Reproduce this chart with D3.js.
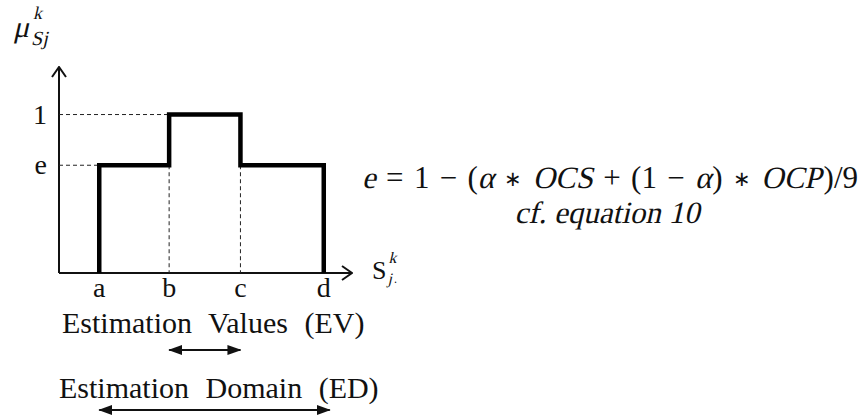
<!DOCTYPE html>
<html>
<head>
<meta charset="utf-8">
<script src="https://cdn.jsdelivr.net/npm/d3@7"></script>
<style>
  body { margin: 0; background: #fff; }
  text { font-family: "Liberation Serif", "Times New Roman", serif; fill: #111; }
</style>
</head>
<body>
<div id="chart"></div>
<script>
// Breakpoints on the S axis and the membership levels between them
const tickLabels = ['a', 'b', 'c', 'd'];
const breakpoints = [0.57, 1.56, 2.57, 3.75];
const eLevel = 0.68;
const levels = [eLevel, 1, eLevel];
const yTickLabels = ['e', '1'];
const yTickValues = [eLevel, 1];

const width = 864, height = 420;

const svg = d3.select('#chart')
  .append('svg')
  .attr('width', width)
  .attr('height', height);

// Scales
const x = d3.scaleLinear().domain([0, 4.15]).range([59, 352]);
const y = d3.scaleLinear().domain([0, 1.3]).range([273, 67]);

// no serif italic installed, so italics are slanted by hand
const SLANT = -13;

// lays out a run of text pieces one after another, returns the width
function richText(parent, x0, y0, size, parts, gapSize) {
  let cx = x0;
  parts.forEach(p => {
    const fs = p.size || size;
    const by = y0 + (p.dy || 0);
    const px = cx + (p.dx || 0);
    const t = parent.append('text')
      .style('font-size', fs + 'px')
      .text(p.t);
    if (p.it) t.attr('transform', `translate(${px},${by}) skewX(${SLANT})`);
    else t.attr('x', px).attr('y', by);
    const w = t.node().getComputedTextLength();
    const gap = p.gap === 'G' ? (gapSize || 0) : (p.gap || 0);
    if (!p.stay) cx = px + w + gap;
  });
  return cx - x0;
}

// Arrow markers
const defs = svg.append('defs');
defs.append('marker')
  .attr('id', 'open')
  .attr('viewBox', '0 0 12 16')
  .attr('refX', 11).attr('refY', 8)
  .attr('markerWidth', 12).attr('markerHeight', 16)
  .attr('markerUnits', 'userSpaceOnUse')
  .attr('orient', 'auto')
  .append('path')
  .attr('d', 'M1,1 L11,8 L1,15')
  .attr('fill', 'none')
  .attr('stroke', '#111')
  .attr('stroke-width', 2);

defs.append('marker')
  .attr('id', 'solid')
  .attr('viewBox', '0 0 14 10')
  .attr('refX', 13).attr('refY', 5)
  .attr('markerWidth', 14).attr('markerHeight', 10)
  .attr('markerUnits', 'userSpaceOnUse')
  .attr('orient', 'auto-start-reverse')
  .append('path')
  .attr('d', 'M0,0 L14,5 L0,10 Z')
  .attr('fill', '#111');

// Axes
svg.append('line')
  .attr('x1', x(0)).attr('y1', y(0))
  .attr('x2', x(0)).attr('y2', y(1.3))
  .attr('stroke', '#111').attr('stroke-width', 2)
  .attr('marker-end', 'url(#open)');

svg.append('line')
  .attr('x1', x(0)).attr('y1', y(0))
  .attr('x2', x(4.15)).attr('y2', y(0))
  .attr('stroke', '#111').attr('stroke-width', 2)
  .attr('marker-end', 'url(#open)');

// Dashed guide lines
function dashed(x1, y1, x2, y2) {
  svg.append('line')
    .attr('x1', x1).attr('y1', y1).attr('x2', x2).attr('y2', y2)
    .attr('stroke', '#222')
    .attr('stroke-width', 1)
    .attr('stroke-dasharray', '4,3');
}
dashed(x(0), y(1), x(breakpoints[1]), y(1));
dashed(x(0), y(eLevel), x(breakpoints[0]), y(eLevel));
dashed(x(breakpoints[1]), y(eLevel), x(breakpoints[1]), y(0));
dashed(x(breakpoints[2]), y(eLevel), x(breakpoints[2]), y(0));

// Step membership function
const pts = [[breakpoints[0], 0]];
levels.forEach((lv, i) => {
  pts.push([breakpoints[i], lv]);
  pts.push([breakpoints[i + 1], lv]);
});
pts.push([breakpoints[breakpoints.length - 1], 0]);

svg.append('path')
  .attr('d', d3.line().x(d => x(d[0])).y(d => y(d[1]))(pts))
  .attr('fill', 'none')
  .attr('stroke', '#000')
  .attr('stroke-width', 4.5)
  .attr('stroke-linejoin', 'miter');

// Tick labels
svg.selectAll('.xt')
  .data(tickLabels)
  .join('text')
  .attr('class', 'xt')
  .attr('x', (d, i) => x(breakpoints[i]))
  .attr('y', 297)
  .attr('text-anchor', 'middle')
  .style('font-size', '28px')
  .text(d => d);

svg.selectAll('.yt')
  .data(yTickLabels)
  .join('text')
  .attr('class', 'yt')
  .attr('x', 47)
  .attr('y', (d, i) => y(yTickValues[i]) + 9)
  .attr('text-anchor', 'end')
  .style('font-size', '28px')
  .text(d => d);

// Axis titles
richText(svg, 13, 37, 30, [
  { t: 'μ', it: true, gap: 2 },
  { t: 'k', it: true, size: 18, dy: -18, dx: 2, stay: true },
  { t: 'S', it: true, size: 20, dy: 8 },
  { t: 'j', it: true, size: 20, dy: 8 }
]);

richText(svg, 372, 279, 26, [
  { t: 'S', gap: 2 },
  { t: 'k', it: true, size: 16, dy: -16, stay: true },
  { t: 'j', it: true, size: 16, dy: 5, dx: -1 },
  { t: '.', size: 12, dy: 4, dx: 2 }
]);

// Bottom annotations
svg.append('text')
  .attr('x', 62).attr('y', 333)
  .style('font-size', '30px')
  .style('word-spacing', '9px')
  .text('Estimation Values (EV)');

svg.append('line')
  .attr('x1', x(breakpoints[1])).attr('y1', 350)
  .attr('x2', x(breakpoints[2])).attr('y2', 350)
  .attr('stroke', '#111').attr('stroke-width', 2)
  .attr('marker-start', 'url(#solid)')
  .attr('marker-end', 'url(#solid)');

svg.append('text')
  .attr('x', 59).attr('y', 398)
  .style('font-size', '30px')
  .style('word-spacing', '9px')
  .text('Estimation Domain (ED)');

svg.append('line')
  .attr('x1', x(breakpoints[0])).attr('y1', 410)
  .attr('x2', x(breakpoints[3]) + 6).attr('y2', 410)
  .attr('stroke', '#111').attr('stroke-width', 2)
  .attr('marker-start', 'url(#solid)')
  .attr('marker-end', 'url(#solid)');

// Equation, spread so that it spans the same width as in the figure
const eqParts = [
  { t: 'e', it: true, gap: 'G' },
  { t: '=', gap: 'G' },
  { t: '1', gap: 'G' },
  { t: '−', gap: 'G' },
  { t: '(' },
  { t: 'α', it: true, gap: 'G' },
  { t: '∗', gap: 'G', size: 21, dy: -2 },
  { t: 'OCS', it: true, gap: 'G' },
  { t: '+', gap: 'G' },
  { t: '(1', gap: 'G' },
  { t: '−', gap: 'G' },
  { t: 'α', it: true, gap: 1 },
  { t: ')', gap: 'G' },
  { t: '∗', gap: 'G', size: 21, dy: -2 },
  { t: 'OCP', it: true, gap: 2 },
  { t: ')/9' }
];
const eqLeft = 362, eqRight = 858, eqSize = 31;
const probe = svg.append('g');
const bare = richText(probe, 0, 0, eqSize, eqParts, 0);
probe.remove();
const nGaps = eqParts.filter(p => p.gap === 'G').length;
richText(svg, eqLeft, 188, eqSize, eqParts, (eqRight - eqLeft - bare) / nGaps);

svg.append('text')
  .attr('transform', `translate(607,223) skewX(${SLANT})`)
  .attr('text-anchor', 'middle')
  .style('font-size', '31px')
  .text('cf. equation 10');
</script>
</body>
</html>
